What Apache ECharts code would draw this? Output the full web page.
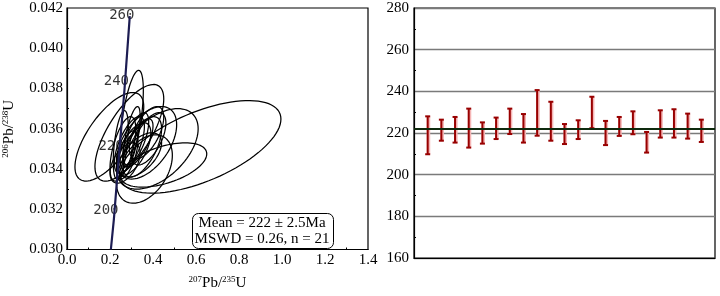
<!DOCTYPE html>
<html>
<head>
<meta charset="utf-8">
<script src="https://cdn.jsdelivr.net/npm/echarts@6/dist/echarts.min.js"></script>
<style>
  html, body { margin: 0; background: #fff; }
  #chart { width: 720px; height: 296px; }
</style>
</head>
<body>
<div id="chart"></div>
<script>
// concordia curve and its age marks
const concX = [0.204, 0.218, 0.242, 0.267, 0.292]
const concY = [0.0300, 0.0315, 0.0347, 0.0379, 0.0416]
const ageMarks = [200, 220, 240, 260]
const ageMarkX = [0.218, 0.242, 0.267, 0.292]
const ageMarkY = [0.0315, 0.0347, 0.0379, 0.0412]

// error ellipses: centre, half widths and correlation
const ellCx = [0.62, 0.45, 0.36, 0.197, 0.30, 0.29, 0.42, 0.37, 0.26, 0.29, 0.31, 0.33, 0.35, 0.28, 0.32, 0.38, 0.27, 0.34, 0.30, 0.37, 0.25]
const ellCy = [0.0351, 0.0342, 0.0340, 0.0356, 0.0364, 0.0358, 0.0350, 0.0353, 0.0350, 0.0352, 0.0350, 0.0353, 0.0351, 0.0347, 0.0355, 0.0355, 0.0343, 0.0347, 0.0356, 0.0358, 0.0352]
const ellAx = [0.375, 0.20, 0.13, 0.16, 0.055, 0.16, 0.19, 0.14, 0.06, 0.07, 0.08, 0.07, 0.09, 0.05, 0.06, 0.08, 0.07, 0.10, 0.04, 0.08, 0.035]
const ellAy = [0.0023, 0.0011, 0.0017, 0.0022, 0.0025, 0.0024, 0.0020, 0.0018, 0.0016, 0.0014, 0.0013, 0.0012, 0.0015, 0.0012, 0.0013, 0.0013, 0.0010, 0.0011, 0.0015, 0.0013, 0.0017]
const ellRho = [0.6, 0.5, 0.4, 0.68, 0.6, 0.7, 0.5, 0.5, 0.6, 0.65, 0.6, 0.7, 0.6, 0.6, 0.65, 0.6, 0.5, 0.55, 0.7, 0.6, 0.5]

// weighted mean plot: age ranges (Ma) per spot
const ageHigh = [228.0, 226.4, 227.7, 231.7, 225.1, 227.4, 231.7, 229.1, 240.6, 235.0, 224.3, 226.1, 237.4, 225.8, 227.7, 230.4, 220.5, 230.9, 231.4, 229.3, 226.4]
const ageLow = [209.8, 216.3, 215.4, 213.0, 214.9, 217.1, 219.5, 215.4, 218.7, 216.3, 214.7, 217.1, 222.3, 214.2, 218.6, 219.4, 210.6, 217.8, 217.8, 217.3, 215.7]
const meanAge = 222
const statLines = ['Mean = 222 ± 2.5Ma', 'MSWD = 0.26, n = 21']

const serif = 'Liberation Serif'

const chart = echarts.init(document.getElementById('chart'))

function renderEllipse(params, api) {
  const cx = api.value(0)
  const cy = api.value(1)
  const ax = api.value(2)
  const ay = api.value(3)
  const r = api.value(4)
  const s = Math.sqrt(1 - r * r)
  const pts = []
  for (let k = 0; k < 90; k++) {
    const t = k / 90 * Math.PI * 2
    pts.push(api.coord([cx + ax * Math.cos(t), cy + ay * (r * Math.cos(t) + s * Math.sin(t))]))
  }
  return {
    type: 'polygon',
    shape: { points: pts },
    style: { fill: 'none', stroke: '#000', lineWidth: 1.25 }
  }
}

function renderBar(params, api) {
  const top = api.coord([api.value(0), api.value(2)])
  const bot = api.coord([api.value(0), api.value(1)])
  const x = top[0]
  const cap = 2.5
  const dark = { stroke: '#980000', lineWidth: 2 }
  const halo = { stroke: '#f5b5b5', lineWidth: 3.5 }
  return {
    type: 'group',
    children: [
      { type: 'line', shape: { x1: x + 0.8, y1: top[1], x2: x + 0.8, y2: bot[1] }, style: halo },
      { type: 'line', shape: { x1: x, y1: top[1], x2: x, y2: bot[1] }, style: dark },
      { type: 'line', shape: { x1: x - cap, y1: top[1], x2: x + cap, y2: top[1] }, style: dark },
      { type: 'line', shape: { x1: x - cap, y1: bot[1], x2: x + cap, y2: bot[1] }, style: dark }
    ]
  }
}

const supName = (mass, el, mass2, el2) =>
  '{s|' + mass + '}{m|' + el + '/}{s|' + mass2 + '}{m|' + el2 + '}'
const nameRich = {
  m: { fontFamily: serif, fontSize: 15, color: '#000', lineHeight: 16 },
  s: { fontFamily: serif, fontSize: 9, color: '#000', verticalAlign: 'top', lineHeight: 16 }
}

chart.setOption({
  animation: false,
  grid: [
    { left: 66, top: 8, width: 302, height: 250, show: true, borderColor: '#000', borderWidth: 1.2, backgroundColor: 'transparent' },
    { left: 414, top: 8, width: 301, height: 250, show: true, borderColor: '#000', borderWidth: 1.2, backgroundColor: 'transparent' }
  ],
  xAxis: [
    {
      gridIndex: 0,
      type: 'value',
      min: 0,
      max: 1.4,
      interval: 0.2,
      name: supName('207', 'Pb', '235', 'U'),
      nameLocation: 'middle',
      nameGap: 26,
      nameTextStyle: { rich: nameRich },
      axisLine: { lineStyle: { color: '#000', width: 1.2 } },
      axisTick: { show: true, inside: true, length: 0 },
      minorTick: { show: true, splitNumber: 2, length: 2, lineStyle: { color: '#000' } },
      splitLine: { show: false },
      axisLabel: { color: '#000', fontFamily: serif, fontSize: 15, margin: 3, formatter: v => v.toFixed(1) }
    },
    {
      gridIndex: 1,
      type: 'value',
      min: 0,
      max: 22,
      axisLine: { lineStyle: { color: '#000', width: 1.2 } },
      axisTick: { show: false },
      axisLabel: { show: false },
      splitLine: { show: false }
    }
  ],
  yAxis: [
    {
      gridIndex: 0,
      type: 'value',
      min: 0.030,
      max: 0.042,
      interval: 0.002,
      name: supName('206', 'Pb', '238', 'U'),
      nameLocation: 'middle',
      nameGap: 50,
      nameTextStyle: { rich: nameRich },
      axisLine: { show: true, lineStyle: { color: '#000', width: 1.2 } },
      axisTick: { show: true, inside: true, length: 0 },
      minorTick: { show: true, splitNumber: 2, length: 2, lineStyle: { color: '#000' } },
      splitLine: { show: false },
      axisLabel: { color: '#000', fontFamily: serif, fontSize: 15, margin: 4, formatter: v => v.toFixed(3) }
    },
    {
      gridIndex: 1,
      type: 'value',
      min: 160,
      max: 280,
      interval: 20,
      axisLine: { show: true, lineStyle: { color: '#000', width: 1.2 } },
      axisTick: { show: true, inside: true, length: 0 },
      minorTick: { show: true, splitNumber: 2, length: 2, lineStyle: { color: '#000' } },
      splitLine: { show: true, lineStyle: { color: '#7a7a7a', width: 1.3 } },
      axisLabel: { color: '#000', fontFamily: serif, fontSize: 15, margin: 5 }
    }
  ],
  series: [
    {
      type: 'scatter',
      xAxisIndex: 0,
      yAxisIndex: 0,
      z: 1,
      symbolSize: 0,
      data: ageMarks.map((a, i) => ({ value: [ageMarkX[i], ageMarkY[i]], name: String(a) })),
      label: {
        show: true,
        position: 'inside',
        offset: [-8, -9],
        formatter: p => p.name,
        fontFamily: 'DejaVu Sans Mono',
        fontSize: 14,
        color: '#000'
      }
    },
    {
      type: 'custom',
      xAxisIndex: 0,
      yAxisIndex: 0,
      z: 2,
      renderItem: renderEllipse,
      data: ellCx.map((cx, i) => [cx, ellCy[i], ellAx[i], ellAy[i], ellRho[i]]),
      encode: { x: 0, y: 1 }
    },
    {
      type: 'line',
      xAxisIndex: 0,
      yAxisIndex: 0,
      z: 3,
      symbol: 'none',
      data: concX.map((x, i) => [x, concY[i]]),
      lineStyle: { color: '#1c1c52', width: 2.2 }
    },
    {
      type: 'custom',
      xAxisIndex: 1,
      yAxisIndex: 1,
      z: 3,
      renderItem: renderBar,
      data: ageHigh.map((h, i) => [i + 1, ageLow[i], h]),
      encode: { x: 0, y: [1, 2] },
      markLine: {
        silent: true,
        symbol: 'none',
        label: { show: false },
        lineStyle: { color: '#0e2a0e', width: 2, type: 'solid' },
        data: [{ yAxis: meanAge }]
      }
    }
  ],
  graphic: [
    {
      type: 'rect',
      left: 192,
      top: 213,
      shape: { width: 141, height: 35, r: 6 },
      style: { fill: '#fff', stroke: '#000', lineWidth: 1 },
      z: 10
    },
    {
      type: 'text',
      x: 262,
      y: 223,
      z: 11,
      style: { text: statLines[0], font: '15px "Liberation Serif"', fill: '#000', align: 'center', verticalAlign: 'middle' }
    },
    {
      type: 'text',
      x: 262,
      y: 239,
      z: 11,
      style: { text: statLines[1], font: '15px "Liberation Serif"', fill: '#000', align: 'center', verticalAlign: 'middle' }
    }
  ]
})
</script>
</body>
</html>
